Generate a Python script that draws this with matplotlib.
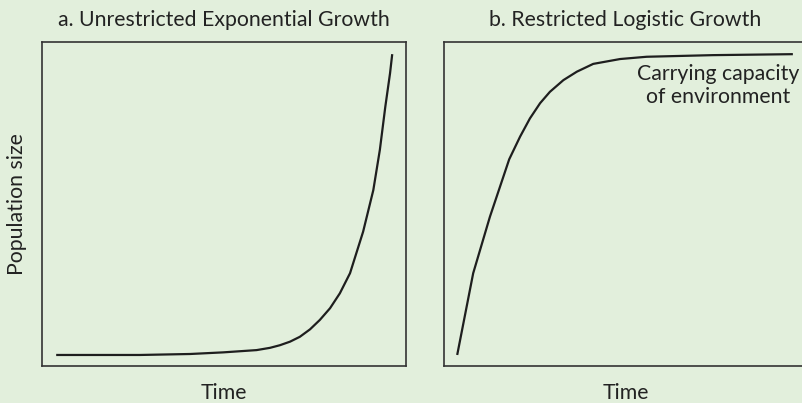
import numpy as np
import matplotlib.pyplot as plt

# values, time and population on a 0-100 scale
exp_time = [3.9, 26.9, 40.7, 49.8, 59.0, 62.7, 65.4, 68.2, 70.9, 73.7, 76.4, 79.2, 81.9, 84.7,
            88.3, 91.1, 92.9, 94.4, 95.7, 96.3]
exp_pop = [3.4, 3.4, 3.7, 4.2, 4.9, 5.6, 6.4, 7.5, 9.0, 11.3, 14.2, 17.8, 22.4, 28.6,
           41.4, 54.2, 66.6, 79.9, 90.2, 96.1]

log_time = [3.7, 8.1, 12.7, 18.0, 21.0, 23.7, 26.5, 29.2, 32.9, 36.6, 41.1, 48.5, 55.8, 74.0, 96.0]
log_pop = [3.4, 28.6, 46.0, 63.7, 70.7, 76.3, 81.0, 84.5, 88.1, 90.7, 93.1, 94.6, 95.3, 95.8, 96.1]

titles = ["a. Unrestricted Exponential Growth", "b. Restricted Logistic Growth"]
x_label = "Time"
y_label = "Population size"
note = "Carrying capacity\nof environment"

bg = "#e2efdc"
ink = "#222222"
plt.rcParams["font.family"] = ["Lato", "DejaVu Sans"]

fig = plt.figure(figsize=(8.03, 4.03), dpi=100, facecolor=bg)
ax_a = fig.add_axes([0.0523, 0.0918, 0.4529, 0.8052])
ax_b = fig.add_axes([0.5526, 0.0918, 0.4529, 0.8052])

for ax, (t, p), title in zip([ax_a, ax_b], [(exp_time, exp_pop), (log_time, log_pop)], titles):
    ax.set_facecolor(bg)
    ax.plot(t, p, color="#1e1e1e", lw=1.6, solid_capstyle="butt", solid_joinstyle="round")
    ax.set_xlim(0, 100)
    ax.set_ylim(0, 100)
    ax.set_xticks([])
    ax.set_yticks([])
    for s in ax.spines.values():
        s.set_color("#333333")
        s.set_linewidth(1.2)
    ax.set_title(title, fontsize=15.3, color=ink, pad=11)
    ax.set_xlabel(x_label, fontsize=15.3, color=ink, labelpad=12)

ax_a.set_ylabel(y_label, fontsize=15.3, color=ink, labelpad=11)
ax_b.text(75.4, 93.0, note, fontsize=15.3, color=ink, ha="center", va="top",
          multialignment="center", linespacing=1.15)

fig.savefig("out.png", dpi=100, facecolor=bg)
